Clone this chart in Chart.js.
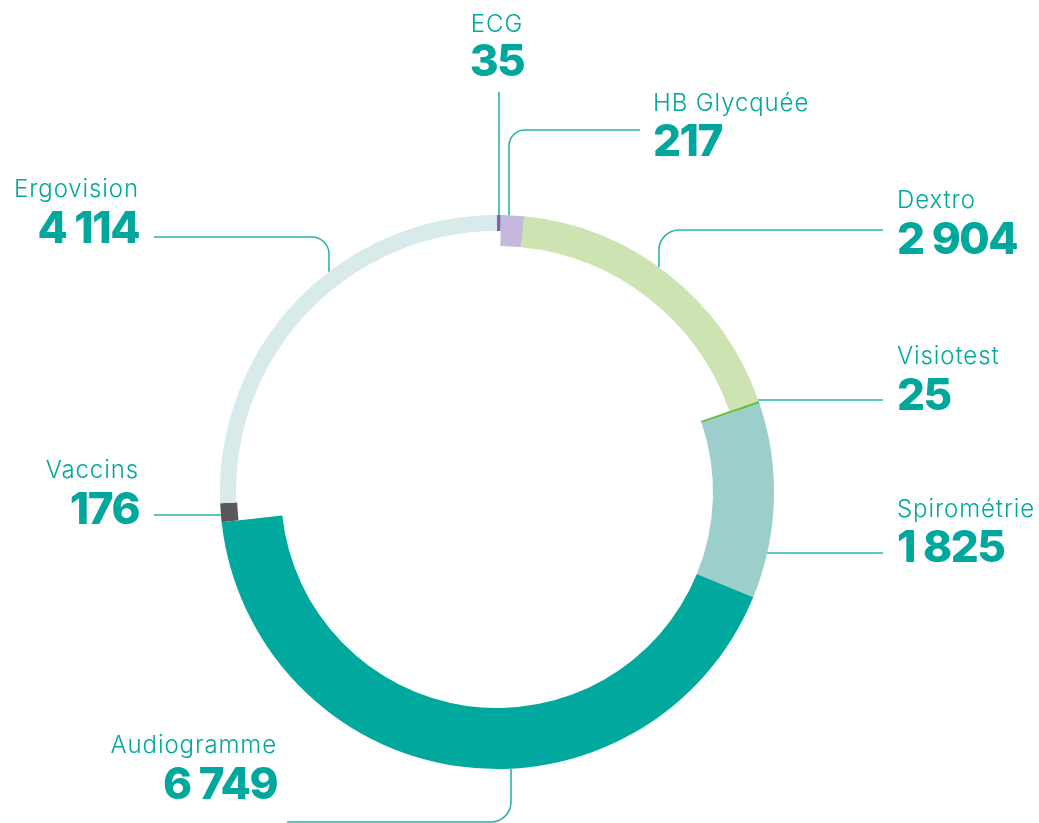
<!DOCTYPE html>
<html>
<head>
<meta charset="utf-8">
<script src="https://cdn.jsdelivr.net/npm/chart.js@4"></script>
<style>
  html, body { margin: 0; padding: 0; background: #ffffff; }
  #wrap { width: 1039px; height: 823px; }
</style>
</head>
<body>
<div id="wrap"><canvas id="c" width="1039" height="823"></canvas></div>
<script>
// ---- data ----
const categories = ['ECG', 'HB Glycquée', 'Dextro', 'Visiotest', 'Spirométrie', 'Audiogramme', 'Vaccins', 'Ergovision'];
const values = [35, 217, 2904, 25, 1825, 6749, 176, 4114];
const valueLabels = ['35', '217', '2 904', '25', '1 825', '6 749', '176', '4 114'];
const colors = ['#7a63ae', '#c4b9dc', '#cde4b2', '#6cbd45', '#9ccecb', '#00a89e', '#58585a', '#d8eaea'];
const thickness = [16, 31, 31, 61, 61, 61, 17, 16];

// ---- label / leader layout ----
const labelLayout = [
  { align: 'center', x: 497, nameY: 32,  valueY: 76 },
  { align: 'left',   x: 653, nameY: 111, valueY: 156 },
  { align: 'left',   x: 897, nameY: 208, valueY: 254 },
  { align: 'left',   x: 897, nameY: 364, valueY: 410 },
  { align: 'left',   x: 897, nameY: 517, valueY: 562 },
  { align: 'right',  x: 277, nameY: 753, valueY: 799 },
  { align: 'right',  x: 139, nameY: 478, valueY: 524 },
  { align: 'right',  x: 139, nameY: 197, valueY: 243 }
];
const leaders = [
  { kind: 'v',  x: 499, y: 92 },
  { kind: 'vh', x: 509, y: 130, end: 640, r: 16 },
  { kind: 'vh', x: 659, y: 230, end: 883, r: 20 },
  { kind: 'h',  y: 400, end: 883 },
  { kind: 'h',  y: 553, end: 883 },
  { kind: 'vh', x: 511, y: 822, end: 287, r: 20 },
  { kind: 'h',  y: 515, end: 154 },
  { kind: 'vh', x: 329, y: 237, end: 154, r: 17 }
];

const TEXT_COLOR = '#00a79d';
const LINE_COLOR = '#2ab4ab';

const ringPlugin = {
  id: 'ringPlugin',
  afterDatasetsUpdate(chart) {
    const meta = chart.getDatasetMeta(0);
    meta.data.forEach((arc, i) => {
      arc.innerRadius = Math.max(0, arc.outerRadius - thickness[i]);
    });
  },
  afterDraw(chart) {
    const ctx = chart.ctx;
    const arc0 = chart.getDatasetMeta(0).data[0];
    const cx = arc0.x, cy = arc0.y, R = arc0.outerRadius;
    ctx.save();
    // leaders
    ctx.strokeStyle = LINE_COLOR;
    ctx.lineWidth = 1.6;
    leaders.forEach(L => {
      ctx.beginPath();
      if (L.kind === 'h') {
        const sx = L.end > cx ? 1 : -1;
        const xr = cx + sx * Math.sqrt(R * R - (L.y - cy) * (L.y - cy));
        ctx.moveTo(xr, L.y);
        ctx.lineTo(L.end, L.y);
      } else {
        const sy = L.y < cy ? -1 : 1;
        const yr = cy + sy * Math.sqrt(R * R - (L.x - cx) * (L.x - cx));
        ctx.moveTo(L.x, yr);
        if (L.kind === 'v') {
          ctx.lineTo(L.x, L.y);
        } else {
          ctx.arcTo(L.x, L.y, L.end, L.y, L.r);
          ctx.lineTo(L.end, L.y);
        }
      }
      ctx.stroke();
    });
    // texts
    ctx.fillStyle = TEXT_COLOR;
    ctx.textBaseline = 'alphabetic';
    categories.forEach((name, i) => {
      const T = labelLayout[i];
      ctx.textAlign = T.align;
      ctx.font = '300 24px Inter, "Open Sans", sans-serif';
      try { ctx.letterSpacing = '0.9px'; } catch (e) {}
      ctx.fillText(name, T.x, T.nameY);
      ctx.font = '800 44px Inter, "Open Sans", sans-serif';
      try { ctx.letterSpacing = '-1.5px'; } catch (e) {}
      ctx.fillText(valueLabels[i], T.x, T.valueY);
    });
    ctx.restore();
  }
};

new Chart(document.getElementById('c'), {
  type: 'doughnut',
  data: {
    labels: categories,
    datasets: [{
      data: values,
      backgroundColor: colors,
      borderWidth: 0,
      hoverOffset: 0
    }]
  },
  options: {
    responsive: false,
    animation: false,
    events: [],
    cutout: '78%',
    rotation: 0,
    layout: { padding: { left: 220, right: 265, top: 215, bottom: 54 } },
    plugins: {
      legend: { display: false },
      tooltip: { enabled: false }
    }
  },
  plugins: [ringPlugin]
});
</script>
</body>
</html>
